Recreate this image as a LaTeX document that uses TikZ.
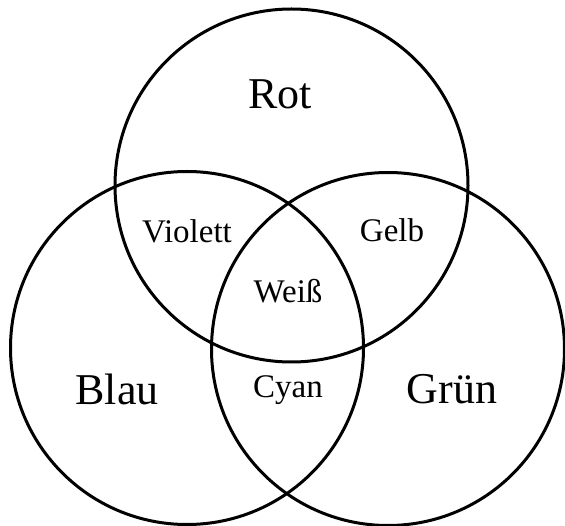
\documentclass[tikz,border=0pt]{standalone}
\usepackage{fontspec}
\setmainfont{Liberation Serif}
\begin{document}
\begin{tikzpicture}[x=1pt,y=-1pt,line join=round,line cap=round,
	ring/.style={line width=3pt},
	grossname/.style={font=\fontsize{44}{48}\selectfont,anchor=base,inner sep=0pt},
	kleinname/.style={font=\fontsize{33}{36}\selectfont,anchor=base,inner sep=0pt}]
	
	\useasboundingbox (0,0) rectangle (565,526);
	\def\rad{176.5}
	\coordinate (rotM) at (291.5,185.5);
	\coordinate (blauM) at (187,348);
	\coordinate (gruenM) at (388,349);
	
	\foreach \m in {rotM,blauM,gruenM}
	\draw[ring] (\m) circle[radius=\rad pt];
	
	\node[grossname] (rot) at (280,109) {Rot};
	\node[grossname] (blau) at (117,405) {Blau};
	\node[grossname] (gruen) at (452,404) {Grün};
	
	\node[kleinname] (violett) at (187,243) {Violett};
	\node[kleinname] (gelb) at (392,242) {Gelb};
	\node[kleinname] (weiss) at (288,303) {Weiß};
	\node[kleinname] (cyan) at (288,398) {Cyan};
\end{tikzpicture}
\end{document}
